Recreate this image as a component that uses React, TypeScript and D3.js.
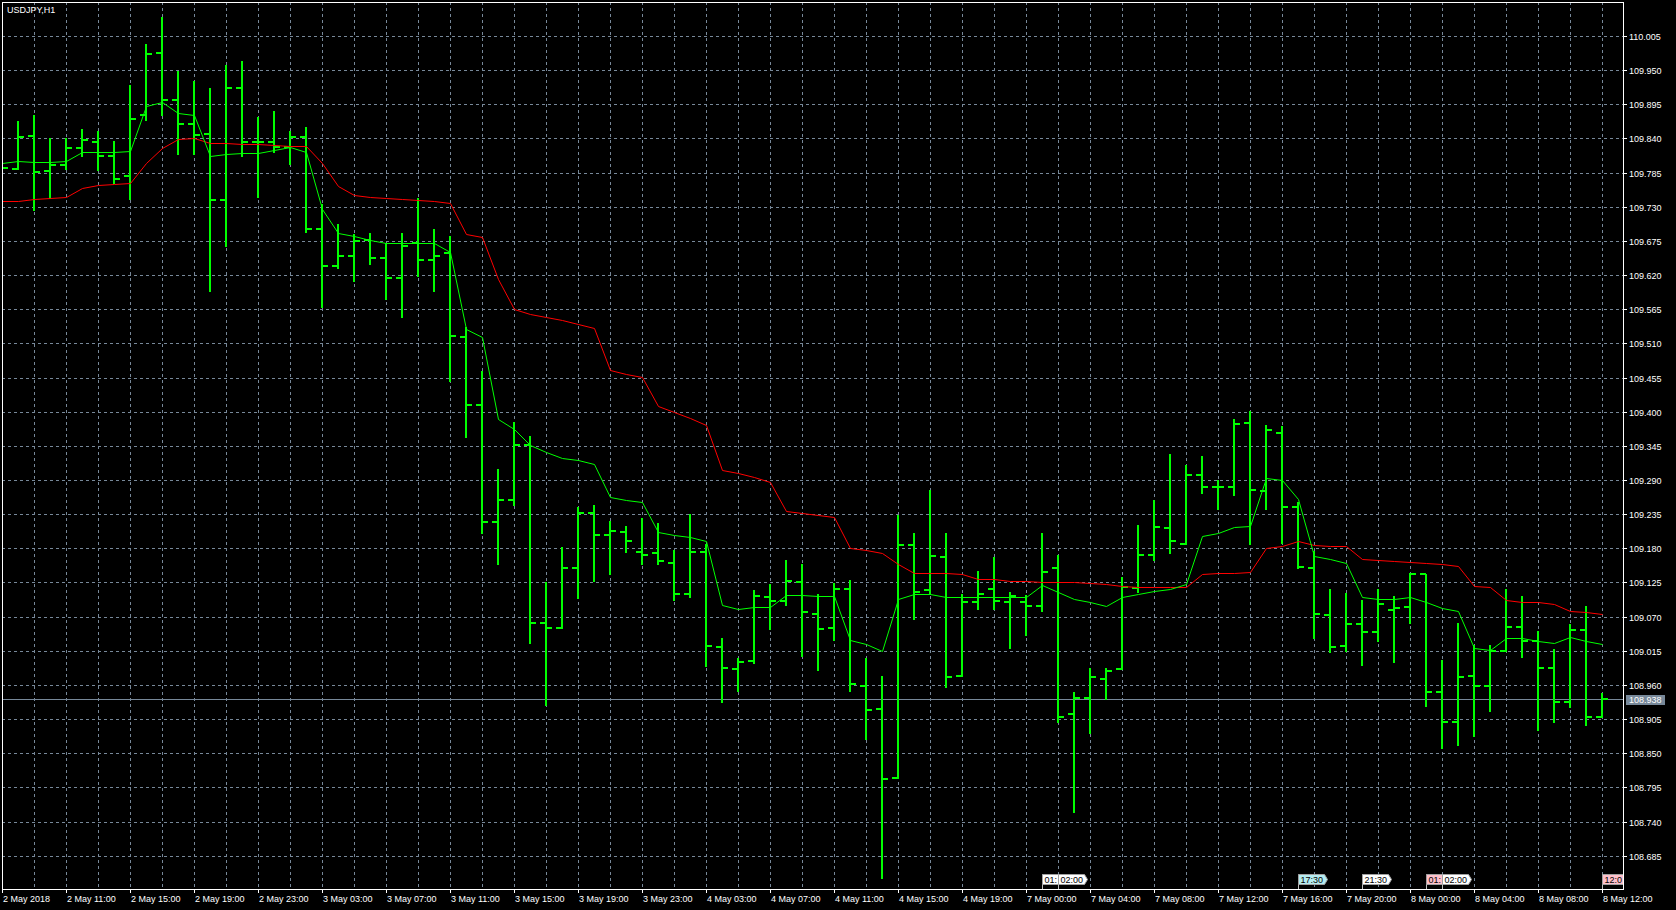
import React from 'react';
import * as d3 from 'd3';

const W = 1676;
const H = 910;

const symbolTitle = 'USDJPY,H1';

// H1 bars, 2 May 2018 07:00 .. 8 May 2018 12:00
const open = [
  109.799, 109.791, 109.844, 109.788, 109.798, 109.825, 109.835, 109.812, 109.780, 109.877,
  109.977, 109.902, 109.863, 109.847, 109.741, 109.922, 109.834, 109.835, 109.827, 109.843,
  109.694, 109.634, 109.651, 109.677, 109.648, 109.615, 109.671, 109.644, 109.656, 109.520,
  109.411, 109.223, 109.258, 109.347, 109.059, 109.051, 109.149, 109.237, 109.201, 109.207,
  109.174, 109.173, 109.157, 109.106, 109.174, 109.021, 108.986, 108.998, 109.102, 109.095,
  109.125, 109.075, 109.052, 109.114, 108.959, 108.922, 108.810, 109.185, 109.113, 109.166,
  108.974, 109.094, 109.115, 109.094, 109.094, 109.087, 109.149, 108.913, 108.939, 108.969,
  108.986, 109.116, 109.169, 109.212, 109.187, 109.298, 109.279, 109.279, 109.381, 109.272,
  109.366, 109.247, 109.149, 109.073, 109.023, 109.058, 109.046, 109.081, 109.086, 109.138,
  108.949, 108.900, 108.974, 108.959, 109.015, 109.054, 109.030, 108.987, 108.932, 109.048,
  108.909,
];
const high = [
  109.821, 109.868, 109.878, 109.841, 109.841, 109.855, 109.852, 109.836, 109.926, 109.992,
  110.036, 109.948, 109.933, 109.921, 109.958, 109.965, 109.875, 109.884, 109.852, 109.858,
  109.734, 109.702, 109.686, 109.687, 109.671, 109.687, 109.744, 109.694, 109.683, 109.536,
  109.465, 109.307, 109.383, 109.361, 109.125, 109.182, 109.247, 109.250, 109.224, 109.216,
  109.229, 109.220, 109.178, 109.236, 109.187, 109.035, 109.004, 109.113, 109.122, 109.161,
  109.154, 109.106, 109.124, 109.129, 109.004, 108.974, 109.234, 109.204, 109.274, 109.204,
  109.106, 109.143, 109.166, 109.110, 109.105, 109.204, 109.169, 108.949, 108.987, 108.988,
  109.133, 109.217, 109.258, 109.332, 109.314, 109.329, 109.290, 109.388, 109.401, 109.379,
  109.377, 109.255, 109.176, 109.114, 109.108, 109.097, 109.114, 109.103, 109.141, 109.138,
  109.000, 109.059, 109.025, 109.025, 109.114, 109.103, 109.047, 109.018, 109.058, 109.087,
  108.947,
];
const low = [
  109.786, 109.791, 109.725, 109.744, 109.791, 109.812, 109.789, 109.768, 109.742, 109.869,
  109.878, 109.815, 109.815, 109.595, 109.667, 109.811, 109.746, 109.819, 109.799, 109.689,
  109.568, 109.631, 109.611, 109.638, 109.582, 109.553, 109.618, 109.595, 109.450, 109.359,
  109.205, 109.154, 109.250, 109.028, 108.928, 109.051, 109.100, 109.128, 109.138, 109.174,
  109.155, 109.155, 109.096, 109.101, 108.991, 108.933, 108.951, 108.995, 109.050, 109.089,
  109.006, 108.984, 109.033, 108.951, 108.873, 108.649, 108.810, 109.066, 109.107, 108.957,
  108.974, 109.082, 109.082, 109.020, 109.040, 109.079, 108.901, 108.756, 108.883, 108.937,
  108.985, 109.110, 109.161, 109.172, 109.187, 109.269, 109.243, 109.266, 109.187, 109.244,
  109.189, 109.149, 109.036, 109.013, 109.015, 108.992, 109.030, 108.997, 109.059, 108.926,
  108.858, 108.863, 108.878, 108.918, 109.015, 109.005, 108.888, 108.900, 108.924, 108.895,
  108.908,
];
const close = [
  109.793, 109.843, 109.786, 109.798, 109.825, 109.837, 109.812, 109.775, 109.871, 109.976,
  109.902, 109.863, 109.846, 109.741, 109.922, 109.835, 109.834, 109.827, 109.842, 109.695,
  109.634, 109.651, 109.675, 109.648, 109.615, 109.667, 109.644, 109.651, 109.522, 109.411,
  109.223, 109.258, 109.346, 109.059, 109.051, 109.149, 109.237, 109.201, 109.208, 109.191,
  109.170, 109.160, 109.106, 109.174, 109.023, 108.987, 108.997, 109.104, 109.095, 109.127,
  109.078, 109.050, 109.114, 108.961, 108.920, 108.808, 109.185, 109.110, 109.168, 108.973,
  109.094, 109.107, 109.095, 109.104, 109.087, 109.142, 108.909, 108.939, 108.972, 108.982,
  109.118, 109.169, 109.215, 109.191, 109.298, 109.278, 109.279, 109.380, 109.274, 109.370,
  109.247, 109.150, 109.075, 109.021, 109.058, 109.046, 109.091, 109.084, 109.138, 108.948,
  108.900, 108.973, 108.959, 109.015, 109.054, 109.030, 108.987, 108.933, 109.048, 108.909,
  108.938,
];
// fast moving average (green)
const maFast = [
  109.800, 109.803, 109.802, 109.802, 109.804, 109.819, 109.819, 109.818, 109.820, 109.892,
  109.898, 109.881, 109.878, 109.811, 109.815, 109.816, 109.816, 109.821, 109.827, 109.819,
  109.726, 109.687, 109.683, 109.677, 109.672, 109.672, 109.672, 109.671, 109.657, 109.533,
  109.520, 109.388, 109.372, 109.346, 109.335, 109.326, 109.322, 109.315, 109.263, 109.257,
  109.255, 109.207, 109.201, 109.199, 109.192, 109.089, 109.083, 109.085, 109.085, 109.105,
  109.105, 109.103, 109.103, 109.032, 109.026, 109.015, 109.099, 109.106, 109.107, 109.102,
  109.102, 109.102, 109.102, 109.102, 109.102, 109.121, 109.110, 109.099, 109.093, 109.087,
  109.102, 109.106, 109.111, 109.114, 109.122, 109.200, 109.204, 109.214, 109.216, 109.293,
  109.290, 109.259, 109.168, 109.162, 109.156, 109.101, 109.099, 109.099, 109.101, 109.094,
  109.084, 109.079, 109.019, 109.016, 109.035, 109.035, 109.031, 109.027, 109.037, 109.031,
  109.026,
];
// slow moving average (red)
const maSlow = [
  109.739, 109.740, 109.742, 109.744, 109.746, 109.761, 109.765, 109.767, 109.769, 109.800,
  109.825, 109.839, 109.841, 109.833, 109.832, 109.831, 109.831, 109.829, 109.828, 109.828,
  109.800, 109.763, 109.749, 109.746, 109.744, 109.743, 109.741, 109.739, 109.736, 109.686,
  109.681, 109.614, 109.565, 109.558, 109.552, 109.548, 109.541, 109.535, 109.467, 109.461,
  109.456, 109.409, 109.399, 109.390, 109.379, 109.306, 109.302, 109.295, 109.287, 109.240,
  109.237, 109.234, 109.230, 109.180, 109.177, 109.173, 109.155, 109.141, 109.141, 109.140,
  109.139, 109.130, 109.130, 109.128, 109.128, 109.126, 109.125, 109.125, 109.124, 109.122,
  109.119, 109.117, 109.117, 109.117, 109.117, 109.139, 109.140, 109.141, 109.142, 109.180,
  109.184, 109.191, 109.185, 109.184, 109.183, 109.162, 109.161, 109.160, 109.158, 109.157,
  109.154, 109.152, 109.119, 109.117, 109.097, 109.094, 109.093, 109.091, 109.079, 109.078,
  109.075,
];

// time axis labels, one every 4 bars
const xTickLabels = [
  '2 May 2018', '2 May 11:00', '2 May 15:00', '2 May 19:00', '2 May 23:00',
  '3 May 03:00', '3 May 07:00', '3 May 11:00', '3 May 15:00', '3 May 19:00', '3 May 23:00',
  '4 May 03:00', '4 May 07:00', '4 May 11:00', '4 May 15:00', '4 May 19:00',
  '7 May 00:00', '7 May 04:00', '7 May 08:00', '7 May 12:00', '7 May 16:00', '7 May 20:00',
  '8 May 00:00', '8 May 04:00', '8 May 08:00', '8 May 12:00',
];
const xTickStep = 4;

const yTickLabels = [
  '110.005', '109.950', '109.895', '109.840', '109.785', '109.730', '109.675', '109.620',
  '109.565', '109.510', '109.455', '109.400', '109.345', '109.290', '109.235', '109.180',
  '109.125', '109.070', '109.015', '108.960', '108.905', '108.850', '108.795', '108.740',
  '108.685',
];

const lastPrice = 108.938;

// event markers on the time axis
const eventBars = [65, 66, 81, 85, 89, 90, 100];
const eventTexts = ['01:00', '02:00', '17:30', '21:30', '01:00', '02:00', '12:00'];
const eventKinds = ['plain', 'plain', 'info', 'plain', 'high', 'plain', 'high'];

const FONT = '"Liberation Sans", Arial, sans-serif';
const BAR = '#00ff00';
const GRID = '#778899';
const eventFill: Record<string, string> = { plain: '#ffffff', info: '#b4ecf0', high: '#ffc0cb' };

// keep only the characters of a label that are visible in the given width
function visiblePart(s: string, avail: number) {
  let w = 0;
  let out = '';
  for (const ch of s) {
    const cw = ch === ':' ? 2.5 : 5;
    if (w + cw > avail) break;
    w += cw;
    out += ch;
  }
  return out;
}

export default function App() {
  const left = 2, top = 2, right = 1623, bottom = 889;
  const n = close.length;
  const x = d3.scaleLinear().domain([0, n - 1]).range([2, 1602]);
  const y = d3.scaleLinear().domain([108.685, 110.005]).range([855.7, 36]);
  const py = (v: number) => Math.round(y(v));

  const idx = d3.range(n);
  const fastPath = d3.line<number>().x((i) => x(i) + 0.5).y((i) => py(maFast[i]) + 0.5)(idx) || '';
  const slowPath = d3.line<number>().x((i) => x(i) + 0.5).y((i) => py(maSlow[i]) + 0.5)(idx) || '';

  const yTickVals = yTickLabels.map(Number);
  const vGrid = idx.filter((i) => i % 2 === 0 && i > 0);

  const evTop = 874.5, evBot = 884.5, evW = 26;
  const evAvail = eventBars.map((b, i) => {
    const ex = x(b);
    const nextX = i + 1 < eventBars.length ? x(eventBars[i + 1]) : right;
    return Math.min(evW + 4, nextX - ex);
  });

  return (
    <svg width={W} height={H} style={{ position: 'absolute', left: 0, top: 0, background: '#000' }}>
      <defs>
        <clipPath id="plot">
          <rect x={left + 1} y={top + 1} width={right - left - 1} height={bottom - top - 1} />
        </clipPath>
        {eventBars.map((b, i) => (
          <clipPath key={'ec' + i} id={'evclip' + i}>
            <rect x={x(b)} y={evTop - 1} width={evAvail[i]} height={evBot - evTop + 2} />
          </clipPath>
        ))}
      </defs>
      <rect x={0} y={0} width={W} height={H} fill="#000" />
      <g clipPath="url(#plot)">
        {/* grid */}
        {yTickVals.map((v, i) => (
          <line key={'hg' + i} x1={left} x2={right} y1={py(v) + 0.5} y2={py(v) + 0.5}
            stroke={GRID} strokeWidth={1} strokeDasharray="3,3" />
        ))}
        {vGrid.map((i) => (
          <line key={'vg' + i} x1={x(i) + 0.5} x2={x(i) + 0.5} y1={top} y2={bottom}
            stroke={GRID} strokeWidth={1} strokeDasharray="3,3" />
        ))}
        {/* last price line */}
        <line x1={left} x2={right} y1={py(lastPrice) + 0.5} y2={py(lastPrice) + 0.5} stroke={GRID} strokeWidth={1} />
        {/* OHLC bars */}
        {idx.map((i) => {
          const cx = x(i);
          const yh = py(high[i]);
          const yl = py(low[i]);
          const yo = py(open[i]);
          const yc = py(close[i]);
          return (
            <g key={'b' + i} fill={BAR}>
              <rect x={cx - 1} y={yh} width={2} height={Math.max(1, yl - yh + 1)} />
              <rect x={cx - 6} y={yo - 1} width={6} height={2} />
              <rect x={cx} y={yc - 1} width={6} height={2} />
            </g>
          );
        })}
        {/* moving averages */}
        <path d={slowPath} fill="none" stroke="#ff0000" strokeWidth={1} />
        <path d={fastPath} fill="none" stroke="#00ff00" strokeWidth={1} />
        {/* event markers */}
        {eventBars.map((b, i) => {
          const ex = x(b) + 0.5;
          const pts = [
            [ex, evTop], [ex + evW, evTop], [ex + evW + 3, (evTop + evBot) / 2], [ex + evW, evBot], [ex, evBot],
          ].map((p) => p.join(',')).join(' ');
          return (
            <g key={'ev' + i}>
              <line x1={ex} x2={ex} y1={evTop} y2={bottom} stroke="#c0c0c0" strokeWidth={1} />
              <g clipPath={`url(#evclip${i})`}>
                <polygon points={pts} fill={eventFill[eventKinds[i]]} stroke="#a0a0a0" strokeWidth={1} />
                <text x={ex + 2} y={evBot - 2} fontFamily={FONT} fontSize={9} fill="#000">
                  {visiblePart(eventTexts[i], evAvail[i] - 2)}
                </text>
              </g>
            </g>
          );
        })}
      </g>
      {/* border */}
      <rect x={left + 0.5} y={top + 0.5} width={right - left} height={bottom - top} fill="none" stroke="#fff" strokeWidth={1} />
      {/* title */}
      <text x={7} y={12.5} fontFamily={FONT} fontSize={9} fill="#fff">{symbolTitle}</text>
      {/* y axis */}
      {yTickVals.map((v, i) => (
        <g key={'yt' + i}>
          <line x1={right} x2={right + 4} y1={py(v) + 0.5} y2={py(v) + 0.5} stroke="#fff" />
          <text x={1629} y={py(v) + 3.5} fontFamily={FONT} fontSize={9} fill="#fff">{yTickLabels[i]}</text>
        </g>
      ))}
      {/* last price label */}
      <rect x={1626} y={py(lastPrice) - 4} width={39} height={10} fill={GRID} />
      <text x={1629} y={py(lastPrice) + 4} fontFamily={FONT} fontSize={9} fill="#fff">{lastPrice.toFixed(3)}</text>
      {/* x axis */}
      {xTickLabels.map((lab, j) => {
        const xi = x(j * xTickStep);
        return (
          <g key={'xt' + j}>
            <line x1={xi + 0.5} x2={xi + 0.5} y1={bottom} y2={bottom + 4} stroke="#fff" />
            <text x={xi + 1} y={902} fontFamily={FONT} fontSize={9} fill="#fff">{lab}</text>
          </g>
        );
      })}
    </svg>
  );
}
